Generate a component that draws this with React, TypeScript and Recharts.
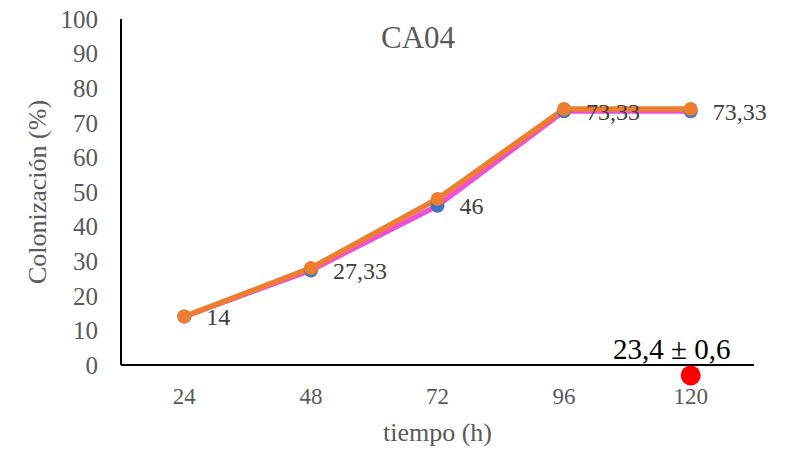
import { LineChart, Line, XAxis, YAxis, LabelList, ReferenceDot } from 'recharts';

const HOURS = [24, 48, 72, 96, 120];
const COLONIZATION_MEAN = [14, 27.33, 46, 73.33, 73.33];
const COLONIZATION_FIT = [14, 28, 48, 74, 74];
const Y_TICKS = [0, 10, 20, 30, 40, 50, 60, 70, 80, 90, 100];

// single marker under the x axis at 120 h
const MARKER_HOUR = 120;
const MARKER_VALUE = -3;
const MARKER_TEXT = '23,4 ± 0,6';

const FONT = 'Liberation Serif, Tinos, Times New Roman, serif';
const BLUE = '#4472C4';
const PINK = '#F04ED6';
const ORANGE = '#ED7D31';

const data = HOURS.map((h, i) => ({
  hour: h,
  mean: COLONIZATION_MEAN[i],
  fit: COLONIZATION_FIT[i],
}));

const fmt = (v: number) => String(v).replace('.', ',');

export default function App() {
  return (
    <div style={{ position: 'absolute', left: 0, top: 0, background: '#fff', fontFamily: FONT }}>
      <LineChart
        width={798}
        height={454}
        data={data}
        margin={{ top: 19, right: 44, left: 0, bottom: 29 }}
      >
        <XAxis
          dataKey="hour"
          scale="band"
          axisLine={{ stroke: '#000', strokeWidth: 2 }}
          tickLine={false}
          tickMargin={17}
          height={60}
          tick={{ fill: '#595959', fontSize: 23, fontFamily: FONT }}
          label={{
            value: 'tiempo (h)',
            position: 'bottom',
            offset: -2,
            fill: '#595959',
            fontSize: 26,
            fontFamily: FONT,
          }}
        />
        <YAxis
          domain={[0, 100]}
          ticks={Y_TICKS}
          interval={0}
          width={121}
          axisLine={{ stroke: '#000', strokeWidth: 2 }}
          tickLine={false}
          tickMargin={17}
          tick={{ fill: '#595959', fontSize: 25, fontFamily: FONT }}
        />
        <Line
          dataKey="mean"
          stroke={PINK}
          strokeWidth={5}
          dot={{ r: 7, fill: BLUE, stroke: 'none' }}
          isAnimationActive={false}
        />
        <Line
          dataKey="fit"
          stroke={ORANGE}
          strokeWidth={5.5}
          dot={{ r: 7, fill: ORANGE, stroke: 'none' }}
          isAnimationActive={false}
        />
        {/* labels for the mean values, kept above both lines */}
        <Line dataKey="mean" stroke="none" dot={false} isAnimationActive={false}>
          <LabelList
            dataKey="mean"
            position="right"
            offset={22}
            formatter={(v: number) => fmt(v)}
            fill="#404040"
            fontSize={24}
            fontFamily={FONT}
          />
        </Line>
        <ReferenceDot
          x={MARKER_HOUR}
          y={MARKER_VALUE}
          r={10}
          fill="#FF0000"
          stroke="none"
          ifOverflow="visible"
          label={{
            value: MARKER_TEXT,
            position: 'top',
            offset: 6,
            dx: -19,
            fill: '#000',
            fontSize: 29,
            fontFamily: FONT,
          }}
        />
        <text x={418} y={48} textAnchor="middle" fill="#595959" fontSize={31} fontFamily={FONT}>
          CA04
        </text>
        <text
          x={46}
          y={192}
          transform="rotate(-90 46 192)"
          textAnchor="middle"
          fill="#595959"
          fontSize={26}
          fontFamily={FONT}
        >
          Colonización (%)
        </text>
      </LineChart>
    </div>
  );
}
